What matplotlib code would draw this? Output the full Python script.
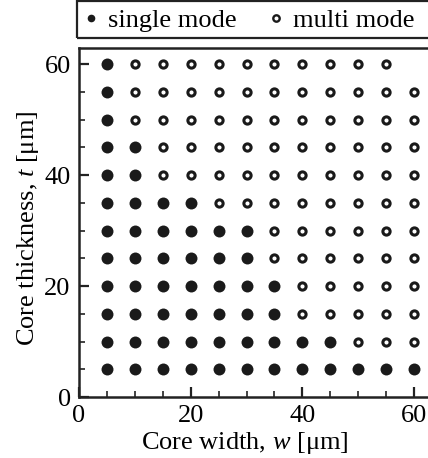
import matplotlib
matplotlib.use("Agg")
import matplotlib.pyplot as plt
from matplotlib.patches import Rectangle
from matplotlib.ticker import MultipleLocator

# Data
widths = [5, 10, 15, 20, 25, 30, 35, 40, 45, 50, 55, 60]
thicknesses = [5, 10, 15, 20, 25, 30, 35, 40, 45, 50, 55, 60]
# number of single-mode points (starting from w=5) for each thickness
single_count = [12, 9, 7, 7, 6, 6, 4, 2, 2, 1, 1, 1]
# largest width measured for each thickness
max_width = [60, 60, 60, 60, 60, 60, 60, 60, 60, 60, 60, 55]

sw, st, mw, mt = [], [], [], []
for t, n, wmax in zip(thicknesses, single_count, max_width):
    for i, w in enumerate(widths):
        if w > wmax:
            continue
        if i < n:
            sw.append(w); st.append(t)
        else:
            mw.append(w); mt.append(t)

plt.rcParams['font.family'] = ['Liberation Serif', 'DejaVu Serif']
plt.rcParams['mathtext.fontset'] = 'custom'
plt.rcParams['mathtext.it'] = 'Liberation Serif:italic'
plt.rcParams['mathtext.rm'] = 'Liberation Serif'

FS = 19
ink = '#1a1a1a'
W, H = 428, 458
fig = plt.figure(figsize=(W/100, H/100), dpi=100)
ax = fig.add_axes([79/W, 1-397/H, 1-79/W, (397-48)/H])

ax.plot(sw, st, 'o', color=ink, markersize=8.6, markeredgewidth=0, label='single mode', clip_on=False)
ax.plot(mw, mt, 'o', markerfacecolor='white', markeredgecolor=ink, markersize=5.2,
        markeredgewidth=2.2, label='multi mode', clip_on=False)

ax.set_xlim(0, 62.5)
ax.set_ylim(0, 62.9)
ax.xaxis.set_major_locator(MultipleLocator(20))
ax.xaxis.set_minor_locator(MultipleLocator(5))
ax.yaxis.set_major_locator(MultipleLocator(20))
ax.yaxis.set_minor_locator(MultipleLocator(5))
ax.tick_params(which='both', direction='in', top=False, right=False, labelsize=FS, color='#222222')
ax.tick_params(which='major', length=7, width=1.6)
ax.tick_params(axis='x', which='major', pad=6)
ax.tick_params(axis='y', which='major', pad=6)
ax.tick_params(which='minor', length=4, width=1.2)
for s in ['left', 'bottom', 'top']:
    ax.spines[s].set_linewidth(1.8)
    ax.spines[s].set_color('#222222')
ax.spines['right'].set_visible(False)

ax.set_xlabel('Core width, $\\it{w}$ [μm]', fontsize=FS)
ax.xaxis.set_label_coords(0.476, -0.095, transform=ax.transAxes)
ax.set_ylabel('Core thickness, $\\it{t}$ [μm]', fontsize=FS)
ax.yaxis.set_label_coords(-0.11, 0.484, transform=ax.transAxes)

h1 = plt.Line2D([], [], marker='o', ls='none', color=ink, markersize=5.5, markeredgewidth=0)
h2 = plt.Line2D([], [], marker='o', ls='none', markerfacecolor='white', markeredgecolor=ink,
                markersize=4.6, markeredgewidth=1.7)
leg = fig.legend([h1, h2], ['single mode', 'multi mode'], loc='center left',
                 bbox_to_anchor=(79/W, 1-20/H), ncol=2, fontsize=FS, frameon=False,
                 handlelength=0.5, handletextpad=0.4, columnspacing=1.25, borderaxespad=0,
                 borderpad=0.2)
fig.patches.append(Rectangle((77/W, 1-38/H), (W+10-77)/W, 37/H, transform=fig.transFigure,
                             fill=False, edgecolor='#222222', linewidth=1.6, clip_on=False))

fig.savefig('out.png', dpi=100)
